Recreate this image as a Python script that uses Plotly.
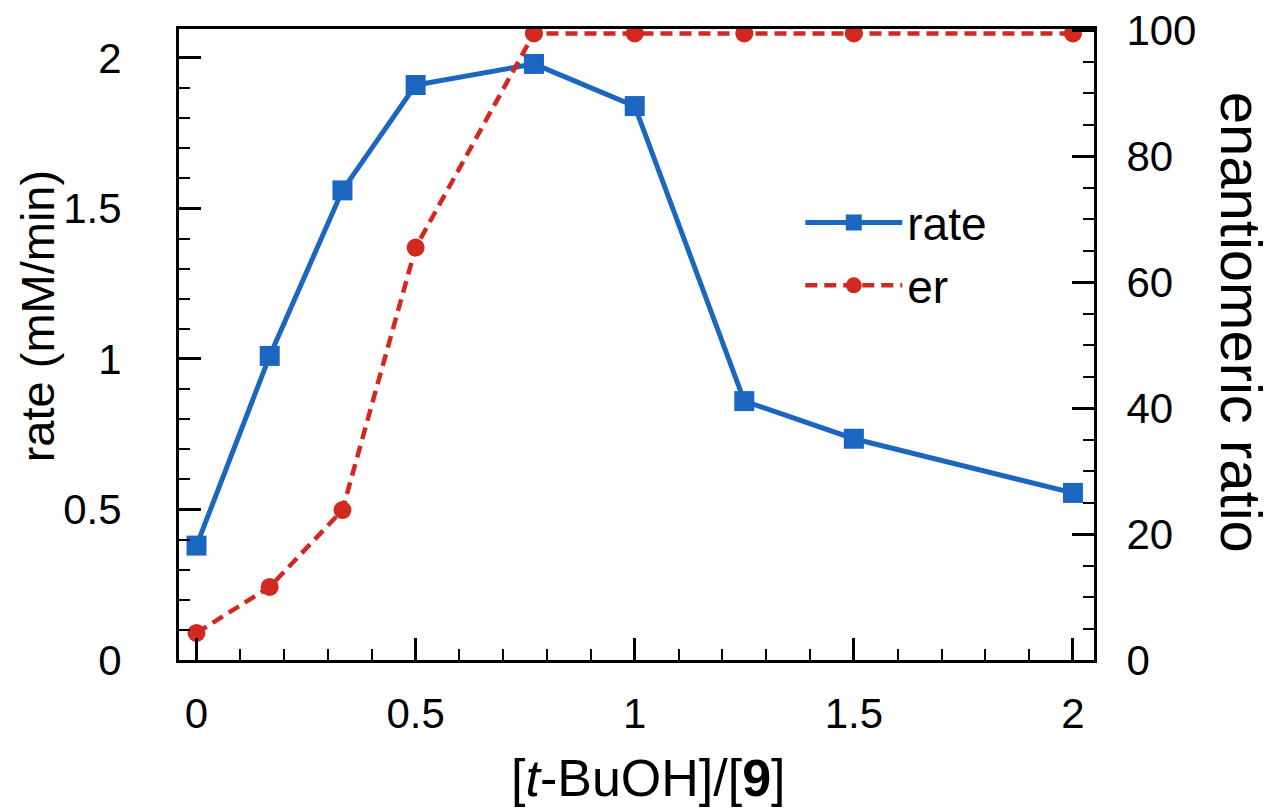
import plotly.graph_objects as go

ratio = [0, 0.167, 0.333, 0.5, 0.77, 1.0, 1.25, 1.5, 2.0]
rate = [0.38, 1.01, 1.56, 1.91, 1.98, 1.84, 0.86, 0.735, 0.555]
er = [4.3, 11.6, 23.8, 65.5, 99.5, 99.5, 99.5, 99.5, 99.5]

BLUE = "#1b66c0"
RED = "#d2281f"
FONT = "Liberation Sans"

fig = go.Figure()
fig.add_trace(go.Scatter(
    x=ratio, y=rate, name="rate", mode="lines+markers", legendgroup="a",
    line=dict(color=BLUE, width=5),
    marker=dict(symbol="square", size=20, color=BLUE),
    yaxis="y",
))
fig.add_trace(go.Scatter(
    x=ratio, y=er, name="er", mode="lines+markers", legendgroup="b",
    line=dict(color=RED, width=4.5, dash="12px,7px"),
    marker=dict(symbol="circle", size=18, color=RED),
    yaxis="y2",
))

common = dict(
    showgrid=False, zeroline=False, showline=True, linecolor="black", linewidth=3,
    ticks="inside", ticklen=22, tickwidth=2.5, tickcolor="black",
    tickfont=dict(family=FONT, size=42, color="black"),
    ticklabeloverflow="allow", automargin=False,
)
minor_style = dict(ticks="inside", ticklen=11, tickwidth=2, tickcolor="black")

fig.update_layout(
    width=1269, height=804,
    margin=dict(l=171, r=183, t=21, b=152, autoexpand=False),
    paper_bgcolor="white", plot_bgcolor="white",
    font=dict(family=FONT, color="black"),
    xaxis=dict(
        range=[-0.04, 2.048], tick0=0, dtick=0.5, mirror=True,
        minor=dict(dtick=0.1, **minor_style),
        ticklabelstandoff=15,
        **common,
    ),
    yaxis=dict(
        range=[0, 2.096], tick0=0, dtick=0.5, mirror=True,
        minor=dict(dtick=0.1, **minor_style),
        ticklabelstandoff=46,
        **common,
    ),
    yaxis2=dict(
        range=[0, 100.2], tick0=0, dtick=20, overlaying="y", side="right",
        minor=dict(dtick=5, **minor_style),
        ticklabelstandoff=21,
        **common,
    ),
    legend=dict(
        x=0.679, y=0.751, xanchor="left", yanchor="top",
        bgcolor="rgba(0,0,0,0)", font=dict(family=FONT, size=46),
        itemwidth=97, tracegroupgap=0,
    ),
    annotations=[
        dict(
            text="[<i>t</i>-BuOH]/[<b>9</b>]", xref="paper", yref="paper",
            x=0.513, y=-0.236, xanchor="center", yanchor="bottom",
            showarrow=False,
            font=dict(family=FONT, size=52, color="black"),
        ),
        dict(
            text="rate (mM/min)", xref="paper", yref="paper",
            x=-0.155, y=0.545, xanchor="center", yanchor="middle",
            textangle=-90, showarrow=False,
            font=dict(family=FONT, size=47, color="black"),
        ),
        dict(
            text="enantiomeric ratio", xref="paper", yref="paper",
            x=1.0, y=0.536, xanchor="center", yanchor="middle", xshift=147,
            textangle=90, showarrow=False,
            font=dict(family=FONT, size=58, color="black"),
        ),
    ],
)

fig.write_html("out.html")
